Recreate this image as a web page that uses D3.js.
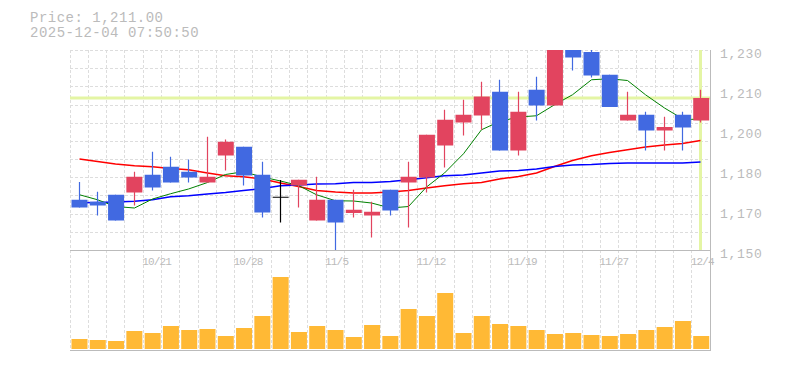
<!DOCTYPE html>
<html>
<head>
<meta charset="utf-8">
<script src="https://cdn.jsdelivr.net/npm/d3@7"></script>
<style>
  body { margin: 0; background: #fff; }
  text { font-family: "Liberation Mono", "DejaVu Sans Mono", monospace; fill: #bbb; }
</style>
</head>
<body>
<div id="chart"></div>
<script>
// daily candles, 10/15 .. 12/4
var dates = ["10/15","10/16","10/17","10/20","10/21","10/22","10/23","10/24","10/27","10/28",
  "10/29","10/30","10/31","11/4","11/5","11/6","11/7","11/10","11/11","11/12",
  "11/13","11/14","11/17","11/18","11/19","11/20","11/21","11/25","11/26","11/27",
  "11/28","12/1","12/2","12/3","12/4"];
var opens  = [1170.3,1169.5,1172.3,1173.2,1180.3,1183.5,1181.5,1177.2,1188,1191.5,
  1180.3,1171.5,1176,1162,1170.3,1165,1164,1174.3,1177.2,1179.2,
  1192,1201.2,1204,1213.5,1190,1214.3,1208,1232,1229.4,1220.3,
  1202,1204.3,1198,1204.3,1202];
var highs  = [1177.4,1173.5,1172.3,1181.5,1189.5,1187.5,1186.4,1195.5,1194.4,1191.5,
  1185.5,1178.2,1178.3,1179.5,1170.3,1174.3,1169.5,1174.3,1185.5,1196.3,
  1206.3,1210.3,1217.5,1218.3,1213.5,1219.5,1232,1233,1231,1220.3,
  1213.5,1205.5,1203.5,1205.5,1214.3];
var lows   = [1167.2,1164,1162,1168,1174,1177.2,1177.2,1177.2,1182,1176,
  1163.2,1161.2,1167.2,1162,1149,1163.2,1155.2,1164,1159.2,1173.2,
  1183.2,1196,1198.3,1190,1188,1202,1208,1222,1219.2,1207.4,
  1202,1190,1190,1190,1201.2];
var closes = [1167.2,1168,1162,1179.5,1175.2,1177.2,1179.2,1179.5,1193.5,1180,
  1165.2,1171.5,1178.3,1170.3,1161.2,1166.3,1165.5,1166,1179.5,1196.3,
  1202.3,1204.3,1211.6,1190,1205.5,1208,1231,1227.2,1220,1207.4,
  1204.3,1198,1199.4,1199.2,1211];
var volumes = [10,9,8,18,16,23,19,20,13,21,
  33,72,17,23,19,12,24,13,40,33,
  56,16,33,25,23,19,15,16,14,13,
  15,19,22,28,13];

// moving averages
var maShort = [1172.3,1170.3,1167.6,1167.0,1170.6,1172.7,1174.6,1177.2,1180.4,1181.5,
  1179.4,1177.8,1176.0,1172.3,1169.9,1169.8,1169.0,1167.0,1167.6,1175.4,
  1181.0,1188.7,1198.3,1201.6,1203.4,1203.9,1208.3,1212.3,1218.3,1218.7,
  1218.0,1212.3,1207.0,1202.7,1202.3];
var maMid = [1186.6,1185.6,1184.6,1183.9,1183.5,1182.8,1182.3,1181.0,1179.9,1179.5,
  1178.6,1177.0,1175.6,1174.0,1173.4,1173.0,1173.0,1173.4,1174.0,1175.0,
  1175.9,1176.7,1177.2,1178.6,1179.6,1181.0,1183.6,1186.0,1187.9,1189.2,
  1190.3,1191.4,1192.2,1192.8,1194.0];
var maLong = [1169.1,1169.2,1169.4,1169.7,1170.3,1171.5,1171.9,1172.6,1173.2,1174.0,
  1174.8,1175.9,1176.2,1176.6,1176.7,1177.2,1177.2,1177.6,1178.3,1179.1,
  1179.9,1180.2,1181.0,1181.8,1182.0,1182.6,1183.6,1184.2,1184.4,1184.8,
  1185.0,1185.0,1185.0,1185.0,1185.4];

var yTicks = [1150, 1166, 1182, 1198, 1214, 1230];
var lastPrice = 1211;
var stamp = "2025-12-04 07:50:50";

var svgWidth = 785, svgHeight = 370;
var plotLeft = 70, plotRight = 710;
var plotTop = 50.5, priceBottom = 250.5;
var volTop = 249, volBottom = 349;

var svg = d3.select("#chart").append("svg")
  .attr("width", svgWidth)
  .attr("height", svgHeight);

var x = d3.scaleBand().domain(d3.range(dates.length)).range([plotLeft, plotRight]);
var step = x.step();
var cx = function(i) { return Math.floor(x(i) + step / 2) + 0.5; };

var y = d3.scaleLinear().domain([1150, 1230]).range([priceBottom, plotTop]);
var yVol = d3.scaleLinear().domain([0, 100]).range([volBottom, volTop]);

svg.append("defs").append("clipPath").attr("id", "plot")
  .append("rect").attr("x", plotLeft).attr("y", 50).attr("width", plotRight - plotLeft).attr("height", 200.5);

// grid
var gridY = d3.scaleLinear().domain([0, 11]).range([priceBottom, plotTop]);
svg.append("g").selectAll("line")
  .data(d3.range(12))
  .enter().append("line")
  .attr("x1", plotLeft).attr("x2", plotRight)
  .attr("y1", d => Math.floor(gridY(d)) + 0.5)
  .attr("y2", d => Math.floor(gridY(d)) + 0.5)
  .attr("stroke", "#ddd").attr("stroke-dasharray", "3,2");

svg.append("g").selectAll("line")
  .data(d3.range(dates.length))
  .enter().append("line")
  .attr("x1", d => Math.floor(x(d)) + 0.5)
  .attr("x2", d => Math.floor(x(d)) + 0.5)
  .attr("y1", 50).attr("y2", 350)
  .attr("stroke", "#ddd").attr("stroke-dasharray", "3,2");

// current price markers
svg.append("line")
  .attr("x1", plotLeft).attr("x2", plotRight)
  .attr("y1", y(lastPrice)).attr("y2", y(lastPrice))
  .attr("stroke", "#e4f5a4").attr("stroke-width", 3);
svg.append("line")
  .attr("x1", cx(dates.length - 1)).attr("x2", cx(dates.length - 1))
  .attr("y1", 50).attr("y2", 250)
  .attr("stroke", "#e4f5a4").attr("stroke-width", 3);

var plot = svg.append("g").attr("clip-path", "url(#plot)");

// moving averages
var line = d3.line().x((d, i) => cx(i)).y(d => y(d));
[[maMid, "#ff0000", 1.5], [maLong, "#0000ff", 1.5], [maShort, "#008000", 1]].forEach(function(s) {
  plot.append("path")
    .datum(s[0])
    .attr("d", line)
    .attr("fill", "none")
    .attr("stroke", s[1])
    .attr("stroke-width", s[2]);
});

// candles
function candleColor(i) {
  if (closes[i] > opens[i]) return "#e2445f";
  if (closes[i] < opens[i]) return "#4169e1";
  return "#000";
}
var candles = plot.selectAll(".candle")
  .data(d3.range(dates.length))
  .enter().append("g")
  .attr("class", "candle");

candles.append("line")
  .attr("x1", d => cx(d)).attr("x2", d => cx(d))
  .attr("y1", d => y(highs[d])).attr("y2", d => y(lows[d]))
  .attr("stroke", d => candleColor(d)).attr("stroke-width", 1.2);

candles.append("rect")
  .attr("x", d => x(d) + 1.5)
  .attr("width", 16)
  .attr("y", d => y(Math.max(opens[d], closes[d])))
  .attr("height", d => Math.max(1, y(Math.min(opens[d], closes[d])) - y(Math.max(opens[d], closes[d]))))
  .attr("fill", d => candleColor(d));

// volume
svg.append("g").selectAll("rect")
  .data(volumes)
  .enter().append("rect")
  .attr("x", (d, i) => x(i) + 1.5)
  .attr("width", 16)
  .attr("y", d => yVol(d))
  .attr("height", d => volBottom - yVol(d))
  .attr("fill", "#ffb935");

// axis lines
svg.append("line").attr("x1", plotLeft).attr("x2", plotRight + 1).attr("y1", 250.5).attr("y2", 250.5)
  .attr("stroke", "#bbb");
svg.append("line").attr("x1", plotLeft).attr("x2", plotRight + 1).attr("y1", 350.5).attr("y2", 350.5)
  .attr("stroke", "#bbb");
svg.append("line").attr("x1", plotRight + 0.5).attr("x2", plotRight + 0.5).attr("y1", 50).attr("y2", 351)
  .attr("stroke", "#bbb");

// y axis labels
var yAxis = d3.axisRight(y)
  .tickValues(yTicks)
  .tickSize(0)
  .tickPadding(0)
  .tickFormat(d => d3.format(",")(Math.round(d / 10) * 10));
var yg = svg.append("g").attr("transform", "translate(720,0)").call(yAxis);
yg.select(".domain").remove();
yg.selectAll("text")
  .attr("dy", null).attr("y", 7)
  .style("font-size", "13px")
  .style("letter-spacing", "0.7px")
  .attr("fill", null)
  .attr("font-family", null);

// x axis labels, every 5th trading day counted back from the last
var labelIdx = d3.range(dates.length).filter(i => (dates.length - 1 - i) % 5 === 0);
var xAxis = d3.axisBottom(x)
  .tickValues(labelIdx)
  .tickSize(0)
  .tickPadding(0)
  .tickFormat(i => dates[i]);
var xg = svg.append("g").attr("transform", "translate(0,265)").call(xAxis);
xg.select(".domain").remove();
xg.selectAll("text")
  .attr("dy", null).attr("y", 0)
  .attr("x", -step / 2 - 1)
  .style("text-anchor", "start")
  .style("font-size", "11px")
  .style("letter-spacing", "-0.8px")
  .attr("fill", null)
  .attr("font-family", null);

// header
svg.append("text").attr("x", 30).attr("y", 22)
  .style("font-size", "14px").style("letter-spacing", "0.5px")
  .text("Price: " + d3.format(",.2f")(lastPrice));
svg.append("text").attr("x", 30).attr("y", 37)
  .style("font-size", "14px").style("letter-spacing", "0.5px")
  .text(stamp);
</script>
</body>
</html>
